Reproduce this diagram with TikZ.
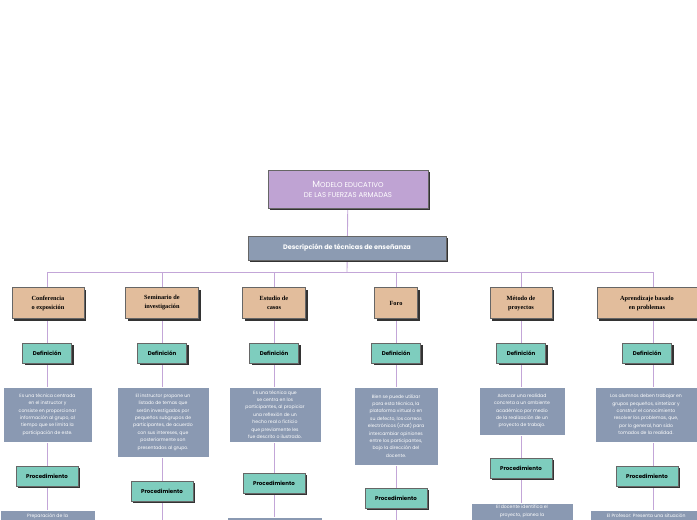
\documentclass[tikz,border=0pt]{standalone}
\usepackage{fontspec}
\setmainfont{Poppins}
\newfontfamily\catfont{Liberation Serif}
\usetikzlibrary{shadows}
\definecolor{lilac}{HTML}{BFA3D3}
\definecolor{steel}{HTML}{8C9BB2}
\definecolor{tan}{HTML}{E2BD9C}
\definecolor{teal}{HTML}{7ECDBE}
\definecolor{descbg}{HTML}{8A99B2}
\definecolor{linec}{HTML}{C3A6D8}
\tikzset{
 base/.style={draw=black!60,line width=0.5pt,inner sep=0pt,drop shadow={shadow xshift=2pt,shadow yshift=-2pt,opacity=1,fill=black!80}},
 cat/.style={base,fill=tan,minimum height=31pt,font=\catfont\bfseries\fontsize{6.3}{9}\selectfont,align=center},
 defb/.style={base,fill=teal,minimum width=49pt,minimum height=20pt,font=\bfseries\fontsize{5.5}{7}\selectfont},
 procb/.style={base,fill=teal,minimum width=62pt,minimum height=20pt,font=\bfseries\fontsize{5.5}{7}\selectfont},
 txt/.style={draw=white,line width=0.8pt,fill=descbg,text=white,align=center,font=\fontsize{4.6}{7.4}\selectfont,inner sep=0pt,drop shadow={shadow xshift=1pt,shadow yshift=-1pt,opacity=0.3}},
 ln/.style={linec,line width=0.9pt}
}
\begin{document}
\begin{tikzpicture}[x=1pt,y=-1pt]
\useasboundingbox (0,0) rectangle (697,520);
\clip (0,0) rectangle (697,520);
% connectors first
\node (t) at (348,189) {};
\node (d) at (347,248) {};
\coordinate (bus) at (347,272);
\coordinate (bl) at (47,272);
\coordinate (br) at (653,272);
\draw[ln] (348,189) -- (347,272);
\draw[ln] (bl) -- (br);
\foreach \x in {47,162,274,396,521,653}{\draw[ln] (\x,272) -- (\x,520);}
% title
\node[base,fill=lilac,minimum width=160pt,minimum height=38pt,text=white,align=center,font=\fontsize{7}{10}\selectfont] (title) at (348,189) {{\fontsize{9}{10}\selectfont M}ODELO EDUCATIVO\\DE LAS FUERZAS ARMADAS};
\node[base,fill=steel,minimum width=198pt,minimum height=24pt,text=white,font=\bfseries\fontsize{6.5}{8}\selectfont] (desc) at (347,248) {Descripción de técnicas de enseñanza};
% categories
\node[cat,minimum width=72pt] (c1) at (48,303) {Conferencia\\o exposición};
\node[cat,minimum width=73pt] (c2) at (162,303) {Seminario de\\investigación};
\node[cat,minimum width=63pt] (c3) at (274,303) {Estudio de\\casos};
\node[cat,minimum width=43pt] (c4) at (396,303) {Foro};
\node[cat,minimum width=62pt] (c5) at (521,303) {Método de\\proyectos};
\node[cat,minimum width=100pt] (c6) at (647,303) {Aprendizaje basado\\en problemas};
% definition
\foreach \x/\n in {47/1,162/2,274/3,396/4,521/5,647/6}{\node[defb] (d\n) at (\x,353) {Definición};}
% descriptions
\node[txt,minimum width=89pt,minimum height=55pt] (e1) at (47.5,414.5) {Es una técnica centrada\\en el instructor y\\consiste en proporcionar\\información al grupo, al\\tiempo que se limita la\\participación de este.};
\node[txt,minimum width=92pt,minimum height=70pt] (e2) at (163,422) {El instructor propone un\\listado de temas que\\serán investigados por\\pequeños subgrupos de\\participantes, de acuerdo\\con sus intereses, que\\posteriormente son\\presentados al grupo.};
\node[txt,minimum width=92pt,minimum height=55pt] (e3) at (275,414.5) {Es una técnica que\\se centra en los\\participantes, al propiciar\\una reflexión de un\\hecho real o ficticio\\que previamente les\\fue descrito o ilustrado.};
\node[txt,minimum width=84pt,minimum height=78pt] (e4) at (396,426) {Bien se puede utilizar\\para esta técnica, la\\plataforma virtual o en\\su defecto, los correos\\electrónicos (chat) para\\intercambiar opiniones\\entre los participantes,\\bajo la dirección del\\docente.};
\node[txt,minimum width=86pt,minimum height=48pt] (e5) at (522,411) {Acercar una realidad\\concreta a un ambiente\\académico por medio\\de la realización de un\\proyecto de trabajo.};
\node[txt,minimum width=102pt,minimum height=55pt] (e6) at (646,414.5) {Los alumnos deben trabajar en\\grupos pequeños, sintetizar y\\construir el conocimiento\\resolver los problemas, que,\\por lo general, han sido\\tomados de la realidad.};
% procedimiento
\node[procb] (p1) at (47,476) {Procedimiento};
\node[procb] (p2) at (162,491) {Procedimiento};
\node[procb] (p3) at (274,483) {Procedimiento};
\node[procb] (p4) at (396,498) {Procedimiento};
\node[procb] (p5) at (521,468) {Procedimiento};
\node[procb] (p6) at (647,476) {Procedimiento};
% bottom cut boxes
\node[txt,minimum width=95pt,minimum height=40pt,anchor=north,text depth=30pt] (f1) at (47.5,510) {Preparación de la};
\node[txt,minimum width=95pt,minimum height=40pt,anchor=north] (f3) at (274.5,517) {};
\node[txt,minimum width=102pt,minimum height=40pt,anchor=north,text depth=25pt] (f5) at (522,503) {El docente identifica el\\proyecto, planea la};
\node[txt,minimum width=107pt,minimum height=40pt,anchor=north west,text depth=30pt,align=left] (f6) at (590,510) {\quad El Profesor: Presenta una situación};
\end{tikzpicture}
\end{document}
